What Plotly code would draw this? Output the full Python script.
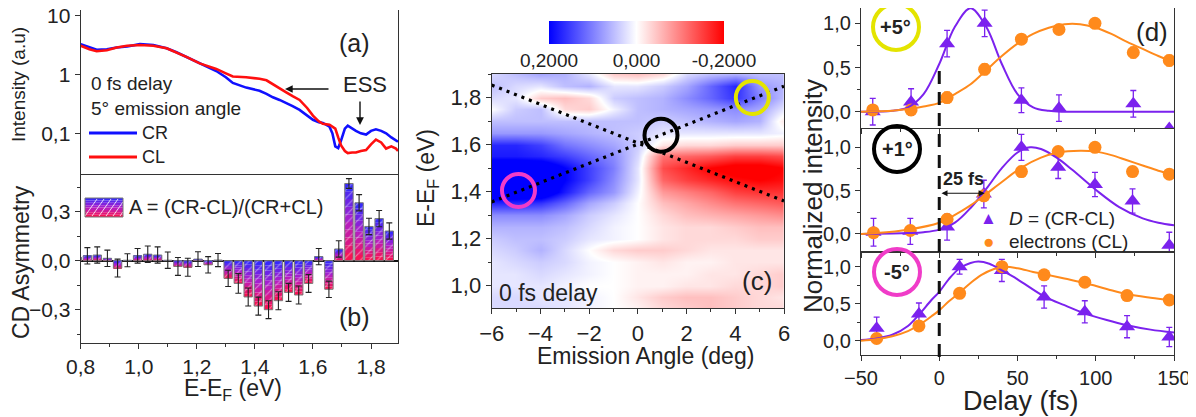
import plotly.graph_objects as go

W, H = 1196, 417
OFF = 8  # page body margin of the browser
FONT = "Liberation Sans, Arial, sans-serif"
INK = "#222222"
AXC = "#333333"

# ---------------- data ----------------
# (a) spectra, intensity (a.u.) vs E-EF (eV)
SPEC_E = [0.80, 0.83, 0.855, 0.89, 0.924, 0.96, 1.004, 1.05, 1.096, 1.13, 1.164, 1.21, 1.24, 1.267,
          1.30, 1.324, 1.37, 1.416, 1.44, 1.462, 1.485, 1.508, 1.53, 1.554, 1.58, 1.60, 1.62, 1.634,
          1.657, 1.667, 1.677, 1.687, 1.697, 1.71, 1.72, 1.735, 1.748, 1.765, 1.783, 1.80, 1.817,
          1.835, 1.852, 1.87, 1.886, 1.893]
SPEC_CR = [3.3, 2.9, 2.65, 2.7, 2.9, 3.0, 3.3, 3.2, 2.8, 2.4, 2.0, 1.55, 1.32, 1.15, 0.9, 0.72,
           0.6, 0.53, 0.47, 0.41, 0.37, 0.33, 0.29, 0.25, 0.2, 0.17, 0.155, 0.15, 0.13, 0.1, 0.06,
           0.056, 0.076, 0.12, 0.135, 0.12, 0.11, 0.1, 0.095, 0.11, 0.117, 0.11, 0.1, 0.085, 0.075,
           0.072]
SPEC_CL = [3.1, 2.7, 2.5, 2.6, 2.9, 3.1, 3.2, 3.1, 2.8, 2.4, 2.0, 1.55, 1.4, 1.25, 1.05, 0.93,
           0.9, 0.85, 0.8, 0.68, 0.58, 0.5, 0.43, 0.37, 0.27, 0.2, 0.16, 0.145, 0.14, 0.13, 0.12,
           0.085, 0.062, 0.05, 0.046, 0.047, 0.047, 0.05, 0.052, 0.065, 0.078, 0.07, 0.055, 0.06,
           0.055, 0.05]

# (b) CD asymmetry bars
BAR_E = [0.788, 0.823, 0.857, 0.892, 0.927, 0.961, 0.996, 1.031, 1.065, 1.100, 1.135, 1.169,
         1.204, 1.239, 1.273, 1.308, 1.343, 1.377, 1.412, 1.447, 1.481, 1.516, 1.551, 1.585,
         1.620, 1.655, 1.689, 1.724, 1.759, 1.793, 1.828, 1.863]
ASYM = [0.02, 0.03, 0.035, 0.015, -0.045, 0.003, 0.03, 0.04, 0.035, 0.003, -0.035, -0.04,
        0.01, -0.025, 0.004, -0.108, -0.139, -0.222, -0.278, -0.30, -0.245, -0.194, -0.21, -0.139,
        0.025, -0.175, 0.072, 0.473, 0.355, 0.21, 0.258, 0.182]
ASYM_ERR = [0.03, 0.05, 0.05, 0.05, 0.055, 0.04, 0.045, 0.05, 0.05, 0.05, 0.055, 0.055,
            0.045, 0.05, 0.04, 0.05, 0.06, 0.055, 0.055, 0.055, 0.055, 0.055, 0.055, 0.055,
            0.05, 0.05, 0.05, 0.03, 0.05, 0.05, 0.05, 0.05]

# (c) asymmetry map: rows = energies, columns = emission angles (positive = blue)
MAP_ANGLE = [-6, -5, -4, -3, -2, -1, 0, 1, 2, 3, 4, 5, 6]
MAP_E = [0.90, 0.95, 1.00, 1.05, 1.10, 1.15, 1.20, 1.25, 1.30, 1.35, 1.40, 1.45, 1.50, 1.55,
         1.60, 1.65, 1.70, 1.75, 1.80, 1.85, 1.90]
MAP_A = [
    [0.03, 0.03, 0.03, 0.02, 0.01, 0.0, -0.01, -0.03, -0.04, -0.05, -0.04, -0.03, -0.03],
    [0.03, 0.03, 0.02, 0.02, 0.01, 0.0, -0.02, -0.04, -0.05, -0.05, -0.04, -0.03, -0.02],
    [0.02, 0.02, 0.02, 0.01, 0.0, 0.0, -0.01, -0.01, -0.02, -0.02, -0.03, -0.03, -0.04],
    [0.02, 0.02, 0.03, 0.02, 0.01, 0.0, -0.01, -0.01, -0.01, -0.02, -0.02, -0.03, -0.04],
    [0.02, 0.03, 0.04, 0.03, 0.01, 0.0, -0.01, -0.02, -0.01, -0.01, -0.02, -0.02, -0.02],
    [0.03, 0.04, 0.06, 0.03, 0.0, -0.03, -0.04, -0.04, -0.03, -0.02, -0.02, -0.02, -0.02],
    [0.04, 0.05, 0.05, 0.04, 0.02, 0.01, 0.0, -0.02, -0.03, -0.03, -0.03, -0.04, -0.04],
    [0.06, 0.06, 0.06, 0.05, 0.03, 0.01, 0.0, -0.02, -0.03, -0.03, -0.04, -0.05, -0.05],
    [0.09, 0.09, 0.09, 0.07, 0.04, 0.02, 0.0, -0.03, -0.05, -0.06, -0.07, -0.08, -0.09],
    [0.17, 0.17, 0.16, 0.12, 0.07, 0.04, 0.0, -0.05, -0.07, -0.09, -0.11, -0.12, -0.13],
    [0.25, 0.25, 0.25, 0.18, 0.12, 0.08, 0.01, -0.08, -0.10, -0.12, -0.15, -0.16, -0.16],
    [0.25, 0.25, 0.25, 0.20, 0.15, 0.09, 0.02, -0.12, -0.15, -0.17, -0.19, -0.20, -0.19],
    [0.25, 0.25, 0.25, 0.20, 0.15, 0.10, 0.02, -0.14, -0.17, -0.20, -0.22, -0.22, -0.20],
    [0.18, 0.18, 0.17, 0.15, 0.12, 0.09, 0.03, -0.11, -0.12, -0.13, -0.15, -0.15, -0.14],
    [0.17, 0.17, 0.15, 0.11, 0.09, 0.07, 0.04, -0.02, -0.03, -0.03, -0.04, -0.04, -0.04],
    [0.08, 0.08, 0.08, 0.07, 0.06, 0.05, 0.04, 0.02, 0.02, 0.02, 0.02, 0.02, 0.01],
    [0.05, 0.05, 0.05, 0.05, 0.05, 0.05, 0.05, 0.04, 0.05, 0.06, 0.07, 0.06, -0.02],
    [0.0, 0.04, 0.05, -0.03, -0.04, 0.01, 0.05, 0.06, 0.07, 0.08, 0.09, 0.07, 0.02],
    [0.03, 0.02, -0.04, -0.05, -0.03, 0.04, 0.05, 0.06, 0.09, 0.12, 0.16, 0.10, 0.05],
    [0.05, 0.03, 0.02, 0.05, 0.06, 0.02, 0.02, 0.04, 0.07, 0.12, 0.17, 0.08, 0.06],
    [0.03, 0.05, 0.07, 0.06, 0.02, -0.04, -0.05, -0.03, 0.03, 0.05, 0.06, 0.05, 0.05],
]
DISP1_ANGLE = [-6, 6]
DISP1_E = [1.853, 1.36]
DISP2_ANGLE = [-6, 6]
DISP2_E = [1.356, 1.848]
CIRC_ANGLE = [-4.9, 0.95, 4.7]
CIRC_E = [1.405, 1.64, 1.80]
CIRC_COLOR = ["#f03cc8", "#000000", "#e4e400"]

# (d) time traces: triangles = D (CR-CL), circles = electrons (CL)
P5_TRI_T = [-42.5, -18, 5, 29, 52.5, 76.5, 124, 147]
P5_TRI_V = [0.0, 0.11, 0.77, 1.0, 0.13, 0.04, 0.09, -0.19]
P5_TRI_E = [0.15, 0.15, 0.15, 0.15, 0.14, 0.15, 0.15, 0.0]
P5_CIR_T = [-42.5, -18, 5, 29, 52.5, 76.5, 99.5, 124, 147]
P5_CIR_V = [0.02, 0.02, 0.16, 0.48, 0.82, 0.93, 1.0, 0.67, 0.58]
P5_CIR_E = [0.03, 0.03, 0.06, 0.06, 0.05, 0.05, 0.03, 0.06, 0.06]
P5_FITD_T = [-50, -30, -20, -10, 0, 10, 20, 30, 40, 50, 60, 70, 80, 100, 150]
P5_FITD_V = [0.0, 0.01, 0.05, 0.2, 0.54, 0.96, 1.17, 0.96, 0.54, 0.2, 0.05, 0.01, 0.0, 0.0, 0.0]
P5_FITE_T = [-50, -40, -30, -20, -10, 0, 10, 20, 30, 40, 50, 60, 70, 80, 90, 100, 110, 120, 130, 140, 150]
P5_FITE_V = [0.0, 0.005, 0.01, 0.03, 0.06, 0.1, 0.2, 0.31, 0.47, 0.63, 0.77, 0.88, 0.95, 0.99,
             0.99, 0.95, 0.88, 0.79, 0.71, 0.63, 0.56]

P1_TRI_T = [-42, -18.5, 5, 28.5, 52.5, 76, 99.5, 123.5, 147]
P1_TRI_V = [0.02, 0.03, 0.08, 0.46, 1.0, 0.77, 0.57, 0.38, -0.13]
P1_TRI_E = [0.16, 0.15, 0.15, 0.16, 0.15, 0.13, 0.14, 0.14, 0.15]
P1_CIR_T = [-42, -18.5, 5, 28.5, 52.5, 76, 99.5, 123.5, 147]
P1_CIR_V = [0.015, 0.04, 0.17, 0.44, 0.72, 0.95, 1.0, 0.72, 0.69]
P1_CIR_E = [0.03, 0.03, 0.05, 0.05, 0.06, 0.05, 0.05, 0.05, 0.05]
P1_FITD_T = [-50, -30, -20, -10, 0, 10, 20, 30, 40, 50, 58, 65, 75, 85, 100, 115, 130, 140, 150]
P1_FITD_V = [0.0, 0.005, 0.01, 0.02, 0.05, 0.13, 0.3, 0.52, 0.76, 0.94, 1.0, 0.98, 0.88, 0.74,
             0.51, 0.31, 0.18, 0.13, 0.1]
P1_FITE_T = [-50, -40, -20, 0, 10, 20, 28.5, 40, 52, 65, 76, 90, 100, 110, 120, 130, 140, 150]
P1_FITE_V = [0.0, 0.01, 0.05, 0.13, 0.22, 0.33, 0.44, 0.6, 0.76, 0.88, 0.94, 0.96, 0.95, 0.91,
             0.85, 0.79, 0.73, 0.68]

M5_TRI_T = [-40, -13, 13, 40, 67, 93, 120, 147]
M5_TRI_V = [0.17, 0.36, 1.0, 0.95, 0.59, 0.39, 0.19, 0.05]
M5_TRI_E = [0.15, 0.15, 0.1, 0.15, 0.15, 0.15, 0.15, 0.13]
M5_CIR_T = [-40, -13, 13, 40, 67, 93, 120, 147]
M5_CIR_V = [0.03, 0.2, 0.64, 1.0, 0.89, 0.79, 0.61, 0.55]
M5_CIR_E = [0.04, 0.04, 0.04, 0.04, 0.04, 0.04, 0.04, 0.04]
M5_FITD_T = [-50, -40, -30, -20, -13, -5, 0, 6, 13, 20, 25, 32, 40, 50, 67, 80, 93, 107, 120, 135, 150]
M5_FITD_V = [0.01, 0.03, 0.08, 0.2, 0.35, 0.55, 0.66, 0.83, 0.98, 1.05, 1.07, 1.04, 0.95, 0.83,
             0.6, 0.48, 0.37, 0.28, 0.21, 0.15, 0.11]
M5_FITE_T = [-50, -40, -30, -20, -13, -5, 0, 6, 13, 20, 27, 35, 42, 50, 60, 67, 80, 93, 107, 120, 135, 150]
M5_FITE_V = [0.0, 0.02, 0.06, 0.13, 0.21, 0.33, 0.41, 0.53, 0.65, 0.78, 0.89, 0.97, 1.0, 0.98,
             0.93, 0.9, 0.84, 0.78, 0.7, 0.63, 0.58, 0.54]

# ---------------- helpers ----------------
def X(px):
    return (px - OFF) / W


def Y(py):
    return 1 - (py - OFF) / H


def hex2rgb(h):
    h = h.lstrip("#")
    return tuple(int(h[i:i + 2], 16) for i in (0, 2, 4))


def grad(t):
    stops = [(0.0, "#ff1248"), (0.5, "#b01fc8"), (1.0, "#2a2aff")]
    for (t0, c0), (t1, c1) in zip(stops[:-1], stops[1:]):
        if t0 <= t <= t1:
            f = (t - t0) / (t1 - t0)
            a, b = hex2rgb(c0), hex2rgb(c1)
            r = [round(a[i] + (b[i] - a[i]) * f) for i in range(3)]
            return "rgb(%d,%d,%d)" % tuple(r)
    return stops[-1][1]


PURPLE = "#7b22ee"
ORANGE = "#ff8a1c"

fig = go.Figure()

# ---------- (a) ----------
fig.add_trace(go.Scatter(x=SPEC_E, y=SPEC_CR, mode="lines", line=dict(color="#1010ff", width=2.6),
                         xaxis="x", yaxis="y", hoverinfo="skip"))
fig.add_trace(go.Scatter(x=SPEC_E, y=SPEC_CL, mode="lines", line=dict(color="#ff0f0f", width=2.6),
                         xaxis="x", yaxis="y", hoverinfo="skip"))

# ---------- (b) gradient bars ----------
NSEG = 10
BAR_W = 0.029
for k in range(NSEG):
    col = grad((k + 0.5) / NSEG)
    base = [min(0, v) + abs(v) * k / NSEG for v in ASYM]
    hgt = [abs(v) / NSEG for v in ASYM]
    fig.add_trace(go.Bar(x=BAR_E, y=hgt, base=base, width=BAR_W,
                         marker=dict(color=col, line=dict(width=0)),
                         xaxis="x2", yaxis="y2", hoverinfo="skip"))
fig.add_trace(go.Bar(x=BAR_E, y=ASYM, width=BAR_W,
                     marker=dict(color="rgba(0,0,0,0)",
                                 line=dict(color="#7a7a7a", width=1),
                                 pattern=dict(shape="/", fgcolor="rgba(255,255,255,0.85)",
                                              bgcolor="rgba(0,0,0,0)", size=6, solidity=0.18)),
                     error_y=dict(type="data", array=ASYM_ERR, color="#222", thickness=1.1, width=3),
                     xaxis="x2", yaxis="y2", hoverinfo="skip"))

# ---------- (c) heatmap ----------
fig.add_trace(go.Heatmap(
    x=MAP_ANGLE, y=MAP_E, z=[[-v for v in row] for row in MAP_A],
    zmin=-0.2, zmax=0.2, zsmooth="best",
    colorscale=[[0, "#0000ff"], [0.5, "#ffffff"], [1, "#ff0000"]],
    colorbar=dict(orientation="h", x=X(636.5), xanchor="center", y=Y(21), yanchor="top",
                  lenmode="pixels", len=175, thickness=23, outlinewidth=0, ticks="",
                  tickvals=[-0.2, 0, 0.2], ticktext=["0,2000", "0,000", "-0,2000"],
                  tickfont=dict(size=19, color=INK, family=FONT), xpad=0, ypad=0),
    xaxis="x3", yaxis="y3", hoverinfo="skip"))
for xs, ys in ((DISP1_ANGLE, DISP1_E), (DISP2_ANGLE, DISP2_E)):
    fig.add_trace(go.Scatter(x=xs, y=ys, mode="lines",
                             line=dict(color="black", width=3.2, dash="3px,5px"),
                             xaxis="x3", yaxis="y3", hoverinfo="skip"))

# ---------- (d) traces ----------
panels = [
    ("x4", "y4", P5_TRI_T, P5_TRI_V, P5_TRI_E, P5_CIR_T, P5_CIR_V, P5_CIR_E,
     P5_FITD_T, P5_FITD_V, P5_FITE_T, P5_FITE_V),
    ("x5", "y5", P1_TRI_T, P1_TRI_V, P1_TRI_E, P1_CIR_T, P1_CIR_V, P1_CIR_E,
     P1_FITD_T, P1_FITD_V, P1_FITE_T, P1_FITE_V),
    ("x6", "y6", M5_TRI_T, M5_TRI_V, M5_TRI_E, M5_CIR_T, M5_CIR_V, M5_CIR_E,
     M5_FITD_T, M5_FITD_V, M5_FITE_T, M5_FITE_V),
]
for xa, ya, tt, tv, te, ct, cv, ce, fdt, fdv, fet, fev in panels:
    fig.add_trace(go.Scatter(x=tt, y=tv, mode="markers",
                             marker=dict(symbol="triangle-up", size=14, color=PURPLE),
                             error_y=dict(type="data", array=te, color=PURPLE, thickness=1.3, width=3),
                             xaxis=xa, yaxis=ya, hoverinfo="skip"))
    fig.add_trace(go.Scatter(x=ct, y=cv, mode="markers",
                             marker=dict(symbol="circle", size=13, color=ORANGE),
                             error_y=dict(type="data", array=ce, color=ORANGE, thickness=1.3, width=3),
                             xaxis=xa, yaxis=ya, hoverinfo="skip"))
    fig.add_trace(go.Scatter(x=fdt, y=fdv, mode="lines", line=dict(color=PURPLE, width=2, shape="spline"),
                             xaxis=xa, yaxis=ya, hoverinfo="skip"))
    fig.add_trace(go.Scatter(x=fet, y=fev, mode="lines", line=dict(color=ORANGE, width=2, shape="spline"),
                             xaxis=xa, yaxis=ya, hoverinfo="skip"))

# ---------------- axes ----------------
tf = lambda s: dict(size=s, color=INK, family=FONT)
common = dict(showgrid=False, zeroline=False, linecolor=AXC, linewidth=1.3, ticks="outside",
              ticklen=5, tickwidth=1.2, tickcolor=AXC, automargin=False, ticklabeloverflow="allow")

ab_x = [X(80.7), X(398)]
dx = [X(861), X(1174)]

layout = dict(
    width=W, height=H, margin=dict(l=0, r=0, t=0, b=0, pad=0, autoexpand=False), autosize=False,
    paper_bgcolor="white", plot_bgcolor="white", showlegend=False,
    separators=",.", barmode="overlay", font=dict(family=FONT, color=INK),
    # (a)
    xaxis=dict(domain=ab_x, range=[0.8, 1.893], anchor="y", showline=False, showticklabels=False,
               ticks="", showgrid=False, zeroline=False),
    yaxis=dict(common, domain=[Y(175), Y(10)], type="log", range=[-1.71, 1.10], anchor="x",
               mirror=True, tickvals=[0.1, 1, 10], ticktext=["0,1", "1", "10"], tickfont=tf(21)),
    # (b)
    xaxis2=dict(common, domain=ab_x, range=[0.8, 1.893], anchor="y2", mirror=True,
                tickvals=[0.8, 1.0, 1.2, 1.4, 1.6, 1.8], tickformat=".1f", tickfont=tf(21),
                minor=dict(dtick=0.1, tick0=0.8, ticks="outside", ticklen=3, tickcolor=AXC)),
    yaxis2=dict(common, domain=[Y(343), Y(175)], range=[-0.504, 0.525], anchor="x2", mirror=True,
                tickvals=[-0.3, 0, 0.3], tickformat=".1f", tickfont=tf(21),
                zeroline=True, zerolinecolor="#111", zerolinewidth=1.5,
                minor=dict(dtick=0.15, tick0=0, ticks="outside", ticklen=3, tickcolor=AXC)),
    # (c)
    xaxis3=dict(common, domain=[X(491.7), X(784)], range=[-6, 6], anchor="y3", mirror=True,
                tickvals=[-6, -4, -2, 0, 2, 4, 6], tickfont=tf(22),
                minor=dict(dtick=1, tick0=0, ticks="outside", ticklen=3, tickcolor=AXC)),
    yaxis3=dict(common, domain=[Y(308), Y(74)], range=[0.905, 1.9], anchor="x3", mirror=True,
                tickvals=[1.0, 1.2, 1.4, 1.6, 1.8], tickformat=".1f", tickfont=tf(22),
                minor=dict(dtick=0.1, tick0=0, ticks="outside", ticklen=3, tickcolor=AXC)),
)
dom_y = {"4": [Y(128), 1.0], "5": [Y(252), Y(129)], "6": [Y(355), Y(252)]}
rng_y = {"4": [-0.184, 1.173], "5": [-0.208, 1.211], "6": [-0.193, 1.199]}
for n in ("4", "5", "6"):
    layout["xaxis" + n] = dict(common, domain=dx, range=[-50, 150], anchor="y" + n, mirror=True,
                               tickvals=[-50, 0, 50, 100, 150], tickfont=tf(20),
                               showticklabels=(n == "6"),
                               minor=dict(dtick=25, tick0=0, ticks="outside", ticklen=3, tickcolor=AXC))
    layout["yaxis" + n] = dict(common, domain=dom_y[n], range=rng_y[n], anchor="x" + n, mirror=True,
                               tickvals=[0, 0.5, 1.0], tickformat=".1f", tickfont=tf(20),
                               minor=dict(dtick=0.25, tick0=0, ticks="outside", ticklen=3, tickcolor=AXC))
fig.update_layout(**layout)

# ---------------- annotations ----------------
anns = []


def ann(text, px, py, size, xanchor="center", yanchor="middle", angle=0, color=INK, bold=False):
    if bold:
        text = "<b>" + text + "</b>"
    anns.append(dict(text=text, x=X(px), y=Y(py), xref="paper", yref="paper", showarrow=False,
                     xanchor=xanchor, yanchor=yanchor, textangle=angle,
                     font=dict(size=size, color=color, family=FONT)))


# axis titles
ann("Intensity (a.u)", 19, 85, 19, angle=-90)
ann("CD Asymmetry", 21, 262, 23, angle=-90)
ann("E-E<sub>F</sub> (eV)", 233, 389, 23)
ann("E-E<sub>F</sub> (eV)", 427, 178, 23, angle=-90)
ann("Emission Angle (deg)", 645, 356, 23)
ann("Normalized intensity", 813, 196, 26, angle=-90)
ann("Delay (fs)", 1021, 401, 27)

# panel (a) texts
ann("(a)", 355, 43, 25)
ann("0 fs delay", 89, 83, 19, xanchor="left")
ann("5° emission angle", 89, 108, 19, xanchor="left")
ann("ESS", 365, 85, 22)
ann("CR", 140, 133, 18, xanchor="left")
ann("CL", 140, 157, 18, xanchor="left")
# panel (b)
ann("A = (CR-CL)/(CR+CL)", 127, 207, 20, xanchor="left")
ann("(b)", 355, 317, 25)
# panel (c)
ann("0 fs delay", 497, 293, 23, xanchor="left")
ann("(c)", 757, 281, 26)
# panel (d)
ann("(d)", 1152, 32, 26)
ann("+5°", 896, 27, 20, bold=True)
ann("+1°", 897, 149, 20, bold=True)
ann("-5°", 897, 272, 20, bold=True)
ann("25 fs", 963, 179, 18, bold=True)
ann("▲", 988, 218, 17, color=PURPLE)
ann("<i>D</i> = (CR-CL)", 1007, 218, 19, xanchor="left")
ann("●", 988, 241, 19, color=ORANGE)
ann("electrons (CL)", 1007, 241, 19, xanchor="left")

# arrows
anns.append(dict(x=X(285), y=Y(89), xref="paper", yref="paper", ax=45, ay=0, text="",
                 showarrow=True, arrowhead=2, arrowsize=1.1, arrowwidth=1.4, arrowcolor="#111"))
anns.append(dict(x=X(360), y=Y(125), xref="paper", yref="paper", ax=0, ay=-25, text="",
                 showarrow=True, arrowhead=2, arrowsize=1.1, arrowwidth=1.4, arrowcolor="#111"))
anns.append(dict(x=29, y=0.47, xref="x5", yref="y5", ax=0.5, ay=0.47, axref="x5", ayref="y5",
                 text="", showarrow=True, arrowhead=2, arrowside="end+start", arrowsize=1,
                 arrowwidth=1.2, arrowcolor="#111"))
fig.update_layout(annotations=anns)

# ---------------- shapes ----------------
shapes = []
# legend lines (a)
shapes.append(dict(type="line", xref="paper", yref="paper", x0=X(89), x1=X(137), y0=Y(133), y1=Y(133),
                   line=dict(color="#1010ff", width=3)))
shapes.append(dict(type="line", xref="paper", yref="paper", x0=X(89), x1=X(137), y0=Y(157), y1=Y(157),
                   line=dict(color="#ff0f0f", width=3)))
# legend swatch (b) with gradient
top, bot = 198, 217
ns = 8
for k in range(ns):
    y_top = top + (bot - top) * k / ns
    y_bot = top + (bot - top) * (k + 1) / ns
    shapes.append(dict(type="rect", xref="paper", yref="paper", x0=X(85), x1=X(123),
                       y0=Y(y_bot), y1=Y(y_top), fillcolor=grad(1 - (k + 0.5) / ns),
                       line=dict(width=0)))
for j in range(6):
    xs0 = 85 + j * 7
    shapes.append(dict(type="line", xref="paper", yref="paper", x0=X(xs0), x1=X(min(xs0 + 12, 123)),
                       y0=Y(bot - 1), y1=Y(bot - 1 - (min(xs0 + 12, 123) - xs0) * 17 / 12),
                       line=dict(color="rgba(255,255,255,0.8)", width=1)))
shapes.append(dict(type="rect", xref="paper", yref="paper", x0=X(85), x1=X(123), y0=Y(bot), y1=Y(top),
                   line=dict(color="#777", width=1), fillcolor="rgba(0,0,0,0)"))
# circles in (c): radius 16.5 px converted to data units
rx = 16.5 * 12 / (784 - 491.7)
ry = 16.5 * (1.9 - 0.905) / (308 - 74)
for a, e, c in zip(CIRC_ANGLE, CIRC_E, CIRC_COLOR):
    shapes.append(dict(type="circle", xref="x3", yref="y3", x0=a - rx, x1=a + rx, y0=e - ry, y1=e + ry,
                       line=dict(color=c, width=4)))
# label circles in (d)
for cx, cy, c in ((896, 27, "#e4e400"), (897, 149, "#000000"), (897, 272, "#f03cc8")):
    shapes.append(dict(type="circle", xref="paper", yref="paper", x0=X(cx - 23), x1=X(cx + 23),
                       y0=Y(cy + 23), y1=Y(cy - 23), line=dict(color=c, width=4)))
# dashed zero-delay line in (d)
shapes.append(dict(type="line", xref="x6", yref="paper", x0=0, x1=0, y0=Y(357), y1=Y(63),
                   line=dict(color="#111", width=3, dash="13px,8px")))
fig.update_layout(shapes=shapes)

fig.write_html("out.html")
